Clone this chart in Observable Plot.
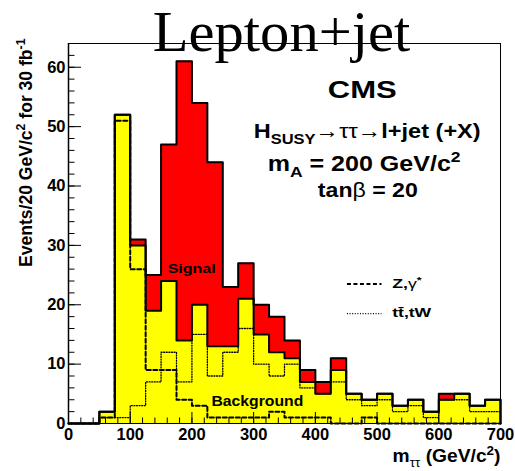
<!DOCTYPE html>
<html>
<head>
<meta charset="utf-8">
<script src="https://cdn.jsdelivr.net/npm/d3@7"></script>
<script src="https://cdn.jsdelivr.net/npm/@observablehq/plot@0.6"></script>
<style>
  html, body { margin: 0; padding: 0; background: #fff; }
  #chart svg { display: block; }
</style>
</head>
<body>
<div id="chart"></div>
<script>
// ---------- data ----------
const binStarts = [0, 25, 50, 75, 100, 125, 150, 175, 200, 225, 250, 275, 300, 325,
                   350, 375, 400, 425, 450, 475, 500, 525, 550, 575, 600, 625, 650, 675];
const binEnd = 700;
// signal + background (red top)
const totalCounts = [0, 0, 2, 52, 31, 25, 47, 61, 54, 44, 23, 27, 20, 18,
                     14, 9, 7, 11, 5, 4, 5, 3, 4, 2, 5, 5, 3, 4];
// total background (yellow)
const backgroundCounts = [0, 0, 2, 52, 30, 19, 24, 14, 20, 13, 13, 21, 15, 12,
                          11, 7, 5, 9, 5, 4, 5, 3, 4, 2, 4, 5, 3, 4];
// Z, gamma* (dashed)
const zGammaCounts = [0, 0, 1, 51, 26, 9, 9, 4, 3, 1, 1, 1, 1, 2,
                      1, 1, 1, 0, 0, 1, 0, 0, 0, 0, 0, 0, 0, 0];
// ttbar, tW (dotted)
const ttbarCounts = [0, 0, 1, 1, 3, 7, 12, 7, 15, 8, 12, 16, 10, 8,
                     10, 6, 5, 7, 4, 3, 4, 2, 3, 1, 4, 4, 2, 2];

const xTicks = [0, 100, 200, 300, 400, 500, 600, 700];
const xMinorTicks = d3.range(0, 701, 20);
const yTicks = [0, 10, 20, 30, 40, 50, 60];
const yMinorTicks = d3.range(0, 64, 2);

const titleText = "Lepton+jet";
const xLabel = "m_#{ττ} (GeV/c^{2})";
const yLabel = "Events/20 GeV/c^{2} for 30 fb^{-1}";
const cmsText = "CMS";
const channelText = "H_{SUSY}#{→ττ→}l+jet (+X)";
const massText = "m_{A} = 200 GeV/c^{2}";
const tanbText = "tan#{β} = 20";
const signalText = "Signal";
const backgroundText = "Background";
const zLegendText = "Z,#{γ}^{*}";
const ttLegendText = "tt\u0304,tW";

// ---------- helpers ----------
function steps(values, close) {
  const pts = binStarts.map((x, i) => ({x, y: values[i]}));
  pts.push({x: binEnd, y: values[values.length - 1]});
  if (close) pts.push({x: binEnd, y: 0});
  return pts;
}

const W = 515, H = 471, mL = 68, mR = 15, mT = 43, mB = 48;
const frameW = W - mL - mR, frameH = H - mT - mB;
const sans = "'Liberation Sans', Arial, Helvetica, sans-serif";

const chart = Plot.plot({
  width: W, height: H,
  marginLeft: mL, marginRight: mR, marginTop: mT, marginBottom: mB,
  x: {domain: [0, 700]},
  y: {domain: [0, 64]},
  style: {fontFamily: sans, fontWeight: "bold", fontSize: "16.5px", color: "black", background: "white", overflow: "visible"},
  marks: [
    // filled histograms
    Plot.areaY(steps(totalCounts), {x: "x", y: "y", curve: "step-after", fill: "#ff0000"}),
    Plot.areaY(steps(backgroundCounts), {x: "x", y: "y", curve: "step-after", fill: "#ffff00"}),
    // outlines
    Plot.lineY(steps(totalCounts, true), {x: "x", y: "y", curve: "step-after", stroke: "black", strokeWidth: 2}),
    Plot.lineY(steps(backgroundCounts, true), {x: "x", y: "y", curve: "step-after", stroke: "black", strokeWidth: 2}),
    // component lines
    Plot.lineY(steps(ttbarCounts), {x: "x", y: "y", curve: "step-after", stroke: "black", strokeWidth: 1.3, strokeDasharray: "1,1.6"}),
    Plot.lineY(steps(zGammaCounts), {x: "x", y: "y", curve: "step-after", stroke: "black", strokeWidth: 2, strokeDasharray: "4,2.5"}),
    // frame and ticks (inside, ROOT style)
    Plot.frame({stroke: "black", strokeWidth: 1}),
    Plot.ruleX([0], {stroke: "black", strokeWidth: 1.5}),
    Plot.tickX(xMinorTicks, {x: d => d, stroke: "black", strokeWidth: 1, insetTop: frameH - 5.5}),
    Plot.tickX(xTicks, {x: d => d, stroke: "black", strokeWidth: 1, insetTop: frameH - 11}),
    Plot.tickY(yMinorTicks, {y: d => d, stroke: "black", strokeWidth: 1, insetRight: frameW - 6.5}),
    Plot.tickY(yTicks, {y: d => d, stroke: "black", strokeWidth: 1, insetRight: frameW - 13}),
    Plot.axisX(xTicks, {tickSize: 0, tickPadding: 5, label: null, fontSize: 16.5, fontWeight: "bold"}),
    Plot.axisY(yTicks, {tickSize: 0, tickPadding: 3, label: null, fontSize: 16.5, fontWeight: "bold"}),
    // axis titles
    Plot.text([xLabel], {text: d => d, frameAnchor: "bottom-right", textAnchor: "end", lineAnchor: "bottom", dy: 38.5, fontSize: 17.5}),
    Plot.text([yLabel], {text: d => d, frameAnchor: "top-left", rotate: -90, textAnchor: "end", lineAnchor: "middle", dx: -42, dy: -5, fontSize: 17.5}),
    // title
    Plot.text([titleText], {text: d => d, frameAnchor: "top", dx: -3, dy: 7, lineAnchor: "bottom",
      fontFamily: "'Liberation Serif', 'Times New Roman', Times, serif", fontWeight: "normal", fontSize: 56}),
    // annotations (data coordinates)
    Plot.text([cmsText], {text: d => d, x: 476, y: 54.9, lineAnchor: "bottom", fontSize: 23}),
    Plot.text([channelText], {text: d => d, x: 484, y: 48.1, lineAnchor: "bottom", fontSize: 21}),
    Plot.text([massText], {text: d => d, x: 479, y: 42.6, lineAnchor: "bottom", fontSize: 21.5}),
    Plot.text([tanbText], {text: d => d, x: 485, y: 38.1, lineAnchor: "bottom", fontSize: 21}),
    Plot.text([signalText], {text: d => d, x: 199.5, y: 25.3, lineAnchor: "bottom", fontSize: 13.5}),
    Plot.text([backgroundText], {text: d => d, x: 306, y: 2.9, lineAnchor: "bottom", fontSize: 14}),
    // legend
    Plot.ruleY([23.5], {y: d => d, x1: 452, x2: 508, stroke: "black", strokeWidth: 2, strokeDasharray: "4,2.5"}),
    Plot.ruleY([18.5], {y: d => d, x1: 452, x2: 508, stroke: "black", strokeWidth: 1.3, strokeDasharray: "1,1.6"}),
    Plot.text([zLegendText], {text: d => d, x: 524.5, y: 22.8, textAnchor: "start", lineAnchor: "bottom", fontSize: 13}),
    Plot.text([ttLegendText], {text: d => d, x: 524.5, y: 17.9, textAnchor: "start", lineAnchor: "bottom", fontSize: 13})
  ]
});

document.getElementById("chart").appendChild(chart);

// ---------- rich text (sub/superscripts, symbol glyphs) & width fitting ----------
const NS = "http://www.w3.org/2000/svg";
function richify(el, raw) {
  if (!/(_#|\^#|_|\^|#)\{/.test(raw)) return;
  const fs = parseFloat(getComputedStyle(el).fontSize) || 16;
  while (el.firstChild) el.removeChild(el.firstChild);
  const re = /(_#|\^#|_|\^|#)\{([^}]*)\}/g;
  let last = 0, m, cur = 0;
  const add = (str, kind) => {
    if (!str) return;
    const t = document.createElementNS(NS, "tspan");
    let off = 0;
    if (kind.includes("_")) { off = 0.28 * fs; t.setAttribute("font-size", (0.7 * fs).toFixed(2)); }
    if (kind.includes("^")) { off = -0.42 * fs; t.setAttribute("font-size", (0.7 * fs).toFixed(2)); }
    if (kind.includes("#")) t.setAttribute("font-weight", "normal");
    if (off !== cur) t.setAttribute("dy", (off - cur).toFixed(2));
    cur = off;
    t.textContent = str;
    el.appendChild(t);
  };
  while ((m = re.exec(raw))) {
    add(raw.slice(last, m.index), "");
    add(m[2], m[1]);
    last = re.lastIndex;
  }
  add(raw.slice(last), "");
}

const fitWidths = new Map([
  [titleText, 258], [cmsText, 69], [channelText, 227], [massText, 193], [tanbText, 100],
  [signalText, 48], [backgroundText, 92], [zLegendText, 30], [ttLegendText, 40],
  [xLabel, 108], [yLabel, 229]
]);

chart.querySelectorAll("text").forEach(el => {
  const raw = el.textContent;
  richify(el, raw);
  if (fitWidths.has(raw)) {
    const w = el.getBBox().width;
    if (w > 0) {
      const sx = fitWidths.get(raw) / w;
      const tr = el.getAttribute("transform");
      if (tr) {
        el.setAttribute("transform", tr + ` scale(${sx.toFixed(4)},1)`);
      } else {
        const x = +el.getAttribute("x") || 0, y = +el.getAttribute("y") || 0;
        el.setAttribute("transform", `translate(${x},${y}) scale(${sx.toFixed(4)},1) translate(${-x},${-y})`);
      }
    }
  }
});
</script>
</body>
</html>
